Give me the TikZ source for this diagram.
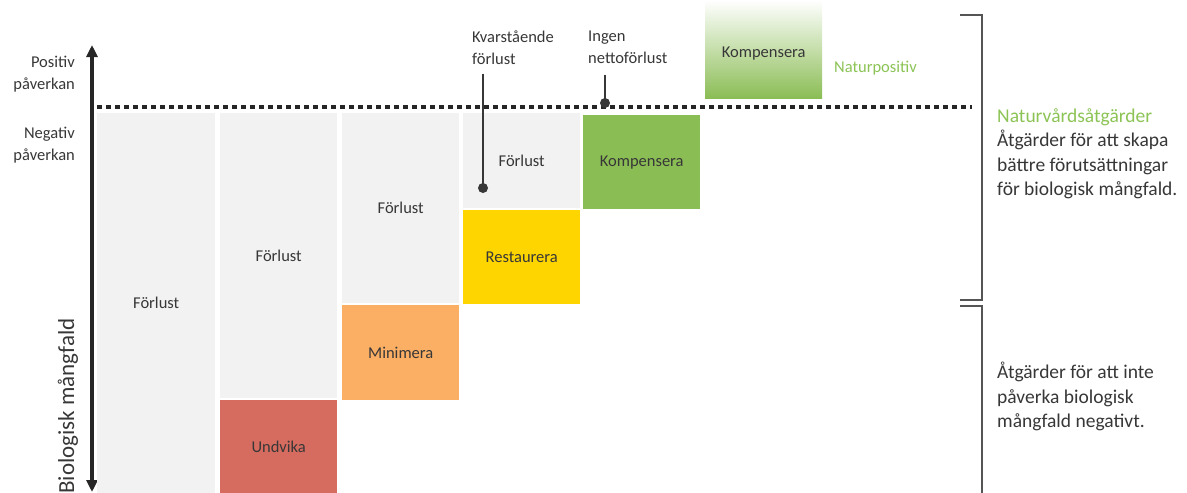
\documentclass[tikz,border=0pt]{standalone}
\usepackage{fontspec}
\setmainfont{Carlito}
\usetikzlibrary{arrows.meta, positioning, calc}
\definecolor{lossgray}{RGB}{242,242,242}
\definecolor{avoidred}{RGB}{214,108,96}
\definecolor{minorange}{RGB}{250,175,100}
\definecolor{restyellow}{RGB}{255,213,0}
\definecolor{compgreen}{RGB}{139,189,85}
\definecolor{natgreen}{RGB}{140,195,85}
\definecolor{textgray}{RGB}{55,55,55}
\definecolor{bracketgray}{RGB}{85,85,85}

\begin{document}
\begin{tikzpicture}[x=1pt, y=-1pt,
  cbox/.style={anchor=north west, inner sep=0pt, minimum width=117pt, text=textgray, font=\fontsize{16.5}{21}\selectfont},
  lbl/.style={text=textgray, font=\fontsize{16.5}{21.5}\selectfont, inner sep=0pt, align=left},
  side/.style={text=textgray, font=\fontsize{19.5}{24.5}\selectfont, inner sep=0pt, align=left, anchor=north west},
  brace/.style={draw=bracketgray, line width=1.2pt},
  pin/.style={draw=textgray, line width=1.2pt}
]
  \useasboundingbox (0,0) rectangle (1187,493);

  % axis
  \coordinate (axtop) at (92,45);
  \coordinate (axbot) at (92,492);
  \draw[line width=4pt, black!85, {Triangle[length=12pt, width=11pt]}-{Triangle[length=12pt, width=11pt]}] (axbot) -- (axtop);
  \node[rotate=90, text=textgray, font=\fontsize{23}{27}\selectfont, inner sep=0pt] (axlabel) at (68,406) {Biologisk mångfald};
  \node[lbl, align=right, anchor=north east] (pos) at (75,56) {Positiv\\påverkan};
  \node[lbl, align=right, anchor=north east] (neg) at (75,127) {Negativ\\påverkan};

  % zero line
  \coordinate (zeroleft) at (97,107);
  \coordinate (zeroright) at (972,107);
  \draw[line width=4pt, black!85, dash pattern=on 5pt off 4pt] (zeroleft) -- (zeroright);

  % columns
  \node[cbox, fill=lossgray, minimum width=118pt, minimum height=380pt] (loss1) at (97,113) {Förlust};
  \node[cbox, fill=lossgray, minimum height=285pt] (loss2) at (220,113) {Förlust};
  \node[cbox, fill=avoidred, minimum height=93pt] (avoid) at (220,400) {Undvika};
  \node[cbox, fill=lossgray, minimum height=190pt] (loss3) at (342,113) {Förlust};
  \node[cbox, fill=minorange, minimum height=95pt] (minimize) at (342,305) {Minimera};
  \node[cbox, fill=lossgray, minimum height=95pt] (loss4) at (463,113) {Förlust};
  \node[cbox, fill=restyellow, minimum height=94pt] (restore) at (463,210) {Restaurera};
  \node[cbox, fill=compgreen, minimum height=94pt] (comp) at (583,115) {Kompensera};
  \node[cbox, top color=white, bottom color=compgreen, minimum height=98pt] (comptop) at (705,0) {};
  \node[text=textgray, font=\fontsize{16.5}{21}\selectfont, inner sep=0pt] (comptoptext) at ([yshift=-4pt]comptop.center) {Kompensera};
  \node[lbl, text=natgreen, anchor=west] (natpos) at (834,68) {Naturpositiv};

  % pins
  \node[lbl, anchor=north west] (remain) at (472,31) {Kvarstående\\förlust};
  \node[lbl, anchor=north west] (nonet) at (588,31) {Ingen\\nettoförlust};
  \coordinate (remaindot) at (483,188);
  \coordinate (nonetdot) at (605,103);
  \draw[pin] ([yshift=-9pt]remain.south -| remaindot) -- (remaindot);
  \draw[pin] ([yshift=-11pt]nonet.south -| nonetdot) -- (nonetdot);
  \fill[textgray] (remaindot) circle (5pt);
  \fill[textgray] (nonetdot) circle (5pt);

  % brackets
  \draw[brace] (960,15) -- (982,15) -- (982,300) -- (960,300);
  \draw[brace] (960,306) -- (982,306) -- (982,493);

  \node[side] (nature) at (997,108) {\textcolor{natgreen}{Naturvårdsåtgärder}\\Åtgärder för att skapa\\bättre förutsättningar\\för biologisk mångfald.};
  \node[side] (noharm) at (997,362) {Åtgärder för att inte\\påverka biologisk\\mångfald negativt.};
\end{tikzpicture}
\end{document}
